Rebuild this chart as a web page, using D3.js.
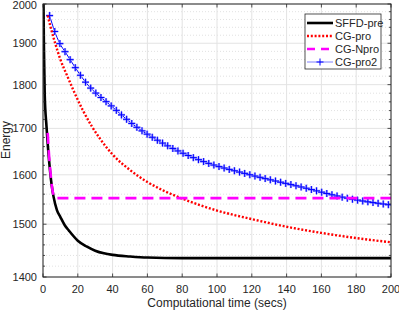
<!DOCTYPE html>
<html>
<head>
<meta charset="utf-8">
<script src="https://cdn.jsdelivr.net/npm/d3@7"></script>
<style>
  body { margin: 0; background: #fff; }
  svg { display: block; font-family: "Liberation Sans", Arial, sans-serif; }
</style>
</head>
<body>
<svg id="chart" width="399" height="312"></svg>
<script>
// data
var sffdT = [0, 0.5, 1, 2, 3, 4, 5, 6, 8, 10, 12.5, 15, 20, 25, 30, 35, 40, 50, 60, 80, 100, 150, 200];
var sffdE = [2150, 1900, 1775, 1705, 1652, 1610, 1578, 1556, 1528, 1514, 1498, 1487, 1468, 1457, 1449, 1444, 1441, 1438, 1436, 1435, 1435, 1435, 1435];

var cgproT = [2.7, 5, 7, 10, 14, 18, 23, 28, 33, 40, 50, 60, 70, 80, 90, 100, 120, 140, 160, 180, 200];
var cgproE = [1970, 1930, 1900, 1860, 1820, 1782, 1740, 1705, 1676, 1643, 1610, 1585, 1566, 1551, 1538, 1527, 1510, 1495, 1483, 1473, 1465];

var npT = [2.7, 3.5, 4.5, 5.5, 6.5, 8, 200];
var npE = [1690, 1640, 1597, 1567, 1554, 1552, 1552];

var pro2T = [3.8, 6.7, 9.6, 13, 25, 40, 52, 70, 90, 119, 148, 176, 200];
var pro2E = [1970, 1930, 1900, 1877, 1803, 1748, 1708, 1665, 1631, 1600, 1575, 1551, 1538];

var xTicks = [0, 20, 40, 60, 80, 100, 120, 140, 160, 180, 200];
var yTicks = [1400, 1500, 1600, 1700, 1800, 1900, 2000];
var yMinor = d3.range(1400, 2001, 20);

var names = ["SFFD-pre", "CG-pro", "CG-Npro", "CG-pro2"];

var svg = d3.select("#chart");
var L = 43, R = 391, T = 4, B = 277;
var axisCol = "#262626";

var x = d3.scaleLinear().domain([0, 200]).range([L, R]);
var y = d3.scaleLog().domain([1400, 2000]).range([B, T]);

// grid
svg.selectAll("line.ymin").data(yMinor.filter(function(v){ return yTicks.indexOf(v) < 0; }))
  .enter().append("line")
  .attr("x1", L).attr("x2", R)
  .attr("y1", function(d){ return y(d); }).attr("y2", function(d){ return y(d); })
  .attr("stroke", "#d9d9d9").attr("stroke-width", 0.8).attr("stroke-dasharray", "1,2");
svg.selectAll("line.ymaj").data(yTicks).enter().append("line")
  .attr("x1", L).attr("x2", R)
  .attr("y1", function(d){ return y(d); }).attr("y2", function(d){ return y(d); })
  .attr("stroke", "#e3e3e3").attr("stroke-width", 1);
svg.selectAll("line.xmaj").data(xTicks).enter().append("line")
  .attr("y1", T).attr("y2", B)
  .attr("x1", function(d){ return x(d); }).attr("x2", function(d){ return x(d); })
  .attr("stroke", "#e3e3e3").attr("stroke-width", 1);

svg.append("clipPath").attr("id", "clip").append("rect")
  .attr("x", L).attr("y", T).attr("width", R - L).attr("height", B - T);
var plot = svg.append("g").attr("clip-path", "url(#clip)");

function pts(ts, es) { return ts.map(function(t, i){ return [t, es[i]]; }); }
var line = d3.line().x(function(d){ return x(d[0]); }).y(function(d){ return y(d[1]); })
  .curve(d3.curveMonotoneX);

// CG-pro2 (blue, + markers)
var pro2 = pts(pro2T, pro2E);
plot.append("path").datum(pro2).attr("d", line)
  .attr("fill", "none").attr("stroke", "#0000ff").attr("stroke-width", 1);
var pro2Path = plot.append("path").datum(pro2).attr("d", line).attr("fill", "none").attr("stroke", "none");
var pnode = pro2Path.node();
var markT = d3.range(3.8, 200.1, 2.95);
// locate marker on curve by x
var total = pnode.getTotalLength();
function pointAtX(px) {
  var lo = 0, hi = total;
  for (var k = 0; k < 30; k++) {
    var mid = (lo + hi) / 2;
    if (pnode.getPointAtLength(mid).x < px) lo = mid; else hi = mid;
  }
  return pnode.getPointAtLength(lo);
}
var marks = markT.map(function(t){ return pointAtX(x(t)); });
function cross(g, col, w) {
  g.selectAll(null).data(marks).enter().append("path")
    .attr("d", function(p){ return "M" + (p.x - 3.5) + "," + p.y + "h7M" + p.x + "," + (p.y - 3.5) + "v7"; })
    .attr("stroke", col).attr("stroke-width", w).attr("fill", "none");
}
cross(plot, "#a0a0ff", 2.2);
cross(plot, "#0000ff", 1);

// CG-pro (red dotted)
plot.append("path").datum(pts(cgproT, cgproE)).attr("d", line)
  .attr("fill", "none").attr("stroke", "#ff0000").attr("stroke-width", 2.4)
  .attr("stroke-dasharray", "2,1.8");

// SFFD-pre (black)
plot.append("path").datum(pts(sffdT, sffdE)).attr("d", line)
  .attr("fill", "none").attr("stroke", "#000").attr("stroke-width", 2.6);

// CG-Npro (magenta dashed)
plot.append("path").datum(pts(npT, npE)).attr("d", line)
  .attr("fill", "none").attr("stroke", "#ff00ff").attr("stroke-width", 2.6)
  .attr("stroke-dasharray", "11,6");

// frame and ticks
svg.append("rect").attr("x", L).attr("y", T).attr("width", R - L).attr("height", B - T)
  .attr("fill", "none").attr("stroke", axisCol).attr("stroke-width", 1);
var tk = svg.append("g").attr("stroke", axisCol).attr("stroke-width", 0.8);
xTicks.forEach(function(v){
  tk.append("line").attr("x1", x(v)).attr("x2", x(v)).attr("y1", B).attr("y2", B - 3.5);
  tk.append("line").attr("x1", x(v)).attr("x2", x(v)).attr("y1", T).attr("y2", T + 3.5);
});
yMinor.forEach(function(v){
  var len = yTicks.indexOf(v) >= 0 ? 3.5 : 2;
  tk.append("line").attr("x1", L).attr("x2", L + len).attr("y1", y(v)).attr("y2", y(v));
  tk.append("line").attr("x1", R).attr("x2", R - len).attr("y1", y(v)).attr("y2", y(v));
});

svg.selectAll("text.xt").data(xTicks).enter().append("text")
  .attr("x", function(d){ return x(d); }).attr("y", 293)
  .attr("text-anchor", "middle").attr("font-size", 11).attr("fill", axisCol)
  .text(function(d){ return d; });
svg.selectAll("text.yt").data(yTicks).enter().append("text")
  .attr("x", 37).attr("y", function(d){ return Math.max(y(d) + 4, 9); })
  .attr("text-anchor", "end").attr("font-size", 11).attr("fill", axisCol)
  .text(function(d){ return d; });

svg.append("text").attr("x", 217).attr("y", 307).attr("text-anchor", "middle")
  .attr("font-size", 12).attr("fill", axisCol).text("Computational time (secs)");
svg.append("text").attr("transform", "translate(10,140) rotate(-90)").attr("text-anchor", "middle")
  .attr("font-size", 12).attr("fill", axisCol).text("Energy");

// legend
var lg = svg.append("g");
lg.append("rect").attr("x", 305).attr("y", 14).attr("width", 76).attr("height", 55)
  .attr("fill", "#fff").attr("stroke", axisCol).attr("stroke-width", 0.8);
var styles = [
  { c: "#000", w: 2.6, d: null },
  { c: "#ff0000", w: 2.4, d: "2,1.8" },
  { c: "#ff00ff", w: 2.6, d: "8,6" },
  { c: "#8080ff", w: 1, d: null }
];
names.forEach(function(n, i){
  var yy = 23 + i * 13;
  var s = styles[i];
  lg.append("line").attr("x1", 307).attr("x2", 333).attr("y1", yy).attr("y2", yy)
    .attr("stroke", s.c).attr("stroke-width", s.w).attr("stroke-dasharray", s.d);
  if (i === 3) {
    lg.append("path").attr("d", "M316.5," + yy + "h7M320," + (yy - 3.5) + "v7")
      .attr("stroke", "#0000ff").attr("stroke-width", 1);
  }
  lg.append("text").attr("x", 335).attr("y", yy + 4).attr("font-size", 11)
    .attr("fill", axisCol).text(n);
});
</script>
</body>
</html>
